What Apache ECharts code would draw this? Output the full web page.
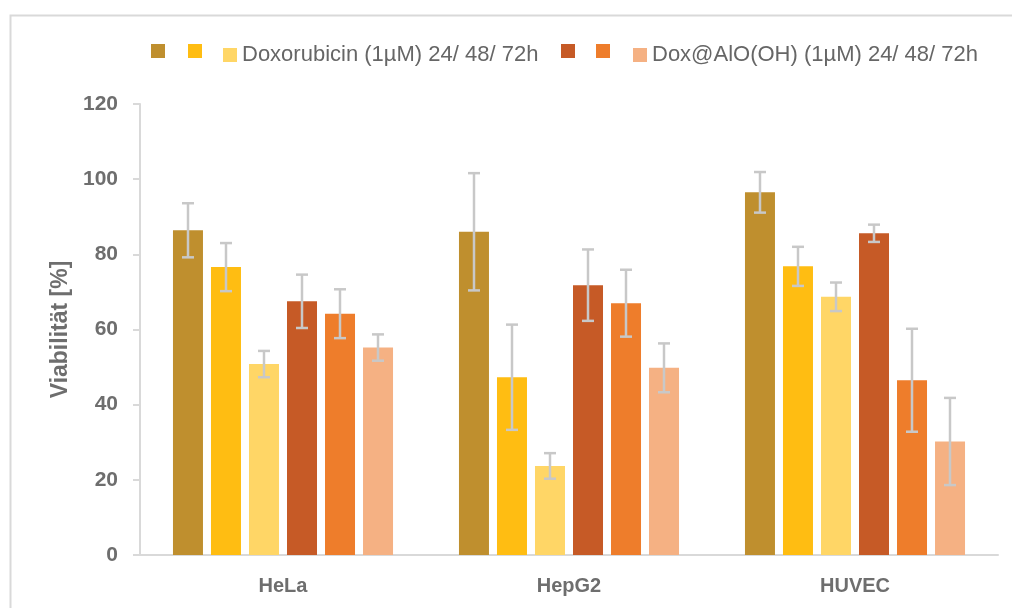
<!DOCTYPE html>
<html lang="de">
<head>
	<meta charset="UTF-8">
	<title>Viabilität</title>
	<style>
	body, div {
		margin: 0;
		padding: 0;
	}
	#echart {
		width: 1012px;
		height: 608px;
	}
	</style>
</head>
<body>
	<div id="echart"></div>

	<script src="https://cdn.jsdelivr.net/npm/echarts@6/dist/echarts.min.js"></script>

	<script>
// Zelllinien
var cellLines = ['HeLa', 'HepG2', 'HUVEC'];

// Mittelwerte [%]
var dox24 = [86.4, 86.0, 96.5];
var dox48 = [76.6, 47.3, 76.8];
var dox72 = [50.8, 23.7, 68.7];
var alo24 = [67.5, 71.8, 85.6];
var alo48 = [64.2, 67.0, 46.5];
var alo72 = [55.2, 49.8, 30.2];

// Standardabweichung (+/-)
var dox24Err = [7.2, 15.6, 5.4];
var dox48Err = [6.4, 14.0, 5.2];
var dox72Err = [3.5, 3.4, 3.8];
var alo24Err = [7.1, 9.5, 2.3];
var alo48Err = [6.5, 8.9, 13.7];
var alo72Err = [3.5, 6.5, 11.6];

var yTicks = [0, 20, 40, 60, 80, 100, 120];

var seriesNames = ['Dox 24h', 'Dox 48h', 'Doxorubicin (1µM) 24/ 48/ 72h',
                   'AlO 24h', 'AlO 48h', 'Dox@AlO(OH) (1µM) 24/ 48/ 72h'];
var legendText = ['', '', 'Doxorubicin (1µM) 24/ 48/ 72h',
                  '', '', 'Dox@AlO(OH) (1µM) 24/ 48/ 72h'];
var colors = ['#BF8F2E', '#FFBD12', '#FFD666', '#C65A26', '#EE7D2B', '#F5B183'];
var means = [dox24, dox48, dox72, alo24, alo48, alo72];
var errs = [dox24Err, dox48Err, dox72Err, alo24Err, alo48Err, alo72Err];

var myEchart = echarts.init(document.getElementById('echart'));

var barW = 30, step = 38;
var legendLeft = [151, 188, 223, 561, 596, 633];

var series = [];
var legends = [];
for (var i = 0; i < 6; i++) {
    series.push({
        name: seriesNames[i],
        type: 'bar',
        barWidth: barW,
        barGap: '26.7%',
        itemStyle: { color: colors[i] },
        data: means[i]
    });
    legends.push({
        data: [seriesNames[i]],
        left: legendLeft[i],
        top: 44,
        itemWidth: 14,
        itemHeight: 14,
        icon: 'rect',
        padding: 0,
        selectedMode: false,
        formatter: (function (t) { return function () { return t; }; })(legendText[i]),
        textStyle: {
            color: '#666',
            fontSize: 22,
            fontFamily: 'Liberation Sans'
        }
    });
}

// Fehlerbalken
for (var k = 0; k < 6; k++) {
    (function (idx) {
        var off = (idx - 2.5) * step;
        series.push({
            type: 'custom',
            name: seriesNames[idx] + ' err',
            z: 10,
            silent: true,
            data: cellLines.map(function (c, j) {
                return [j, means[idx][j] - errs[idx][j], means[idx][j] + errs[idx][j]];
            }),
            renderItem: function (params, api) {
                var lo = api.coord([api.value(0), api.value(1)]);
                var hi = api.coord([api.value(0), api.value(2)]);
                var x = lo[0] + off;
                var cap = 6;
                var st = { stroke: '#C8C8C8', lineWidth: 2.5 };
                return {
                    type: 'group',
                    children: [
                        { type: 'line', shape: { x1: x, y1: lo[1], x2: x, y2: hi[1] }, style: st },
                        { type: 'line', shape: { x1: x - cap, y1: hi[1], x2: x + cap, y2: hi[1] }, style: st },
                        { type: 'line', shape: { x1: x - cap, y1: lo[1], x2: x + cap, y2: lo[1] }, style: st }
                    ]
                };
            }
        });
    })(k);
}

option = {
    animation: false,
    backgroundColor: '#fff',
    graphic: [{
        type: 'rect',
        left: 8,
        top: 13,
        shape: { width: 1100, height: 700 },
        style: { fill: 'none', stroke: '#D9D9D9', lineWidth: 2 },
        silent: true
    }],
    legend: legends,
    grid: {
        left: 140,
        right: 14,
        top: 104,
        bottom: 53
    },
    xAxis: {
        type: 'category',
        data: cellLines,
        axisTick: { show: false },
        axisLine: { lineStyle: { color: '#D9D9D9', width: 2 } },
        axisLabel: {
            margin: 21,
            color: '#6E6E6E',
            fontSize: 20,
            fontWeight: 'bold',
            fontFamily: 'Liberation Sans'
        }
    },
    yAxis: {
        type: 'value',
        min: yTicks[0],
        max: yTicks[yTicks.length - 1],
        interval: 20,
        name: 'Viabilität [%]',
        nameLocation: 'middle',
        nameRotate: 90,
        nameGap: 68,
        nameTextStyle: {
            color: '#6E6E6E',
            fontSize: 23,
            fontWeight: 'bold',
            fontFamily: 'Liberation Sans'
        },
        axisLine: { show: true, lineStyle: { color: '#D9D9D9', width: 2 } },
        axisTick: { show: true, length: 7, lineStyle: { color: '#D9D9D9', width: 2 } },
        splitLine: { show: false },
        axisLabel: {
            margin: 22,
            color: '#6E6E6E',
            fontSize: 21,
            fontWeight: 'bold',
            fontFamily: 'Liberation Sans'
        }
    },
    series: series
};

myEchart.setOption(option);
	</script>
</body>
</html>
